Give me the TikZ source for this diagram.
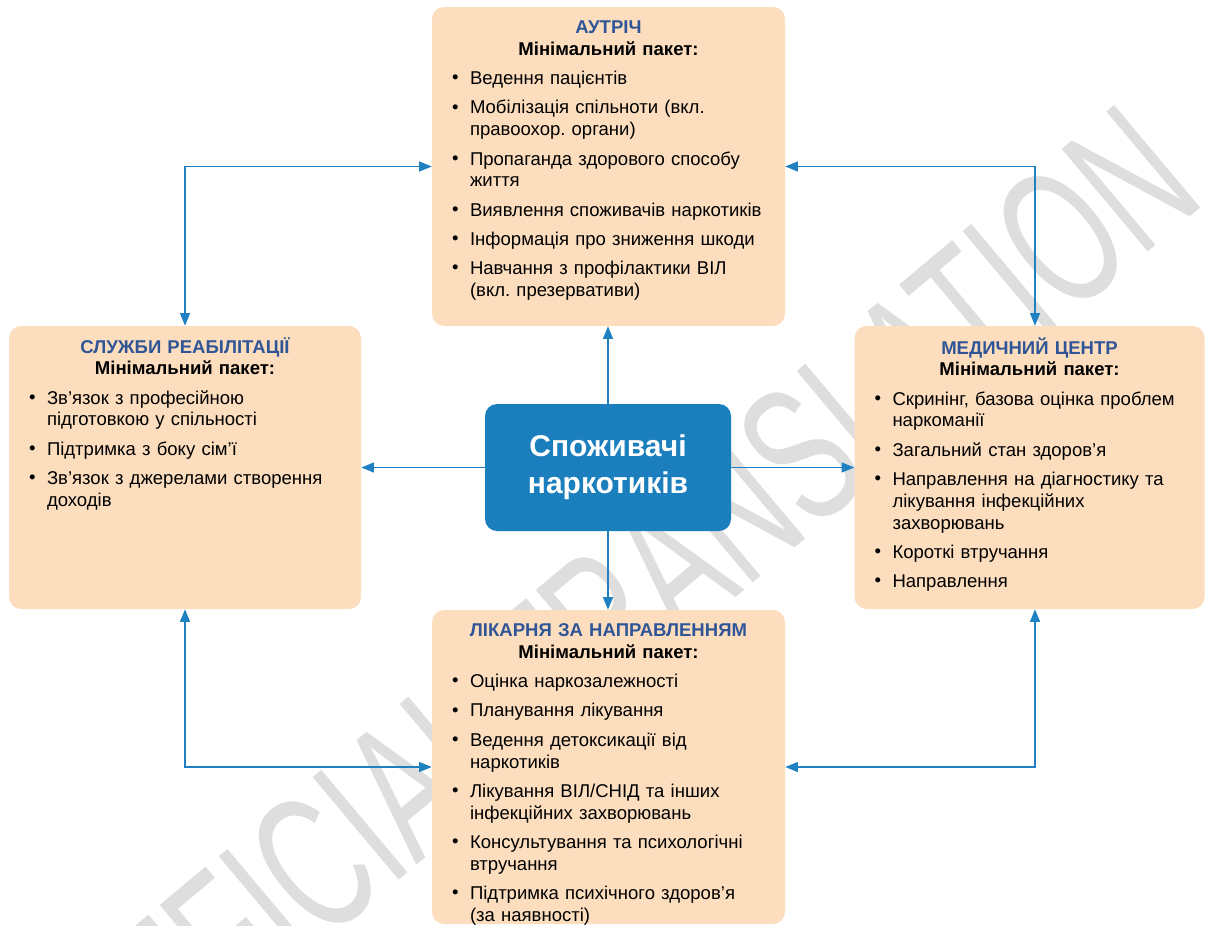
\documentclass[tikz,border=0pt]{standalone}
\usepackage{fontspec}
\setmainfont{Liberation Sans}
\usetikzlibrary{arrows.meta}
\frenchspacing

\definecolor{peach}{RGB}{252,221,190}
\definecolor{hubblue}{RGB}{27,127,189}
\definecolor{titleblue}{RGB}{47,85,151}
\definecolor{linkblue}{RGB}{31,128,194}
\definecolor{wmgrey}{RGB}{222,222,222}

\newcommand{\pkghead}[1]{{\centering\bfseries\strut\textcolor{titleblue}{#1}\par Мінімальний пакет:\par}}
\newcommand{\bitem}[1]{\par\vspace{5.7pt}\noindent\leftskip=0pt\rightskip=-100pt plus 1fil\hangindent=13.5pt\hangafter=1\hbox to 13.5pt{\raisebox{0.6pt}{\textbullet}\hfil}#1\par}

\begin{document}
\begin{tikzpicture}
[
x=0.75pt, y=-0.75pt,
>={Triangle[length=9.5pt,width=7.5pt]},
pkg/.style={rectangle, rounded corners=9pt, fill=peach, inner sep=0pt},
hub/.style={rectangle, rounded corners=9pt, fill=hubblue, text=white, align=center,
  font=\bfseries\fontsize{22.5}{28}\selectfont, minimum width=184.5pt, minimum height=95.25pt},
txt/.style={anchor=north, inner sep=0pt, font=\fontsize{13.9}{16.3}\selectfont},
link/.style={draw=linkblue, line width=1pt},
wm/.style={text=wmgrey, font=\fontsize{146}{150}\selectfont, rotate=40, xscale=0.63, anchor=east, inner sep=0pt}
]
\useasboundingbox (0,0) rectangle (1205,925);

\node[wm] (wm) at (1165,150) {UNOFFICIAL TRANSLATION};

\node[pkg, minimum width=264.75pt, minimum height=239.25pt] (aut) at (608.5,166.5) {};
\node[txt, text width=234.75pt] (autlist) at ([yshift=-8.5pt]aut.north) {\pkghead{АУТРІЧ}
\bitem{Ведення пацієнтів}
\bitem{Мобілізація спільноти (вкл.\newline правоохор. органи)}
\bitem{Пропаганда здорового способу\newline життя}
\bitem{Виявлення споживачів наркотиків}
\bitem{Інформація про зниження шкоди}
\bitem{Навчання з профілактики ВІЛ\newline (вкл. презервативи)}};

\node[pkg, minimum width=264pt, minimum height=212.25pt] (rehab) at (185,467.5) {};
\node[txt, text width=234pt] (rehablist) at ([yshift=-8.5pt]rehab.north) {\pkghead{СЛУЖБИ РЕАБІЛІТАЦІЇ}
\bitem{Зв’язок з професійною\newline підготовкою у спільності}
\bitem{Підтримка з боку сім’ї}
\bitem{Зв’язок з джерелами створення\newline доходів}};

\node[pkg, minimum width=262.5pt, minimum height=212.25pt] (med) at (1029.5,467.5) {};
\node[txt, text width=232.5pt] (medlist) at ([yshift=-8.5pt]med.north) {\pkghead{МЕДИЧНИЙ ЦЕНТР}
\bitem{Скринінг, базова оцінка проблем\newline наркоманії}
\bitem{Загальний стан здоров’я}
\bitem{Направлення на діагностику та\newline лікування інфекційних\newline захворювань}
\bitem{Короткі втручання}
\bitem{Направлення}};

\node[pkg, minimum width=264.75pt, minimum height=235.5pt] (hosp) at (608.5,767) {};
\node[txt, text width=234.75pt] (hosplist) at ([yshift=-8.5pt]hosp.north) {\pkghead{ЛІКАРНЯ ЗА НАПРАВЛЕННЯМ}
\bitem{Оцінка наркозалежності}
\bitem{Планування лікування}
\bitem{Ведення детоксикації від\newline наркотиків}
\bitem{Лікування ВІЛ/СНІД та інших\newline інфекційних захворювань}
\bitem{Консультування та психологічні\newline втручання}
\bitem{Підтримка психічного здоров’я\newline (за наявності)}};

\node[hub] (hub) at (608,467.5) {Споживачі\\наркотиків};

\draw[link,->] (hub.north) -- (hub.north |- aut.south);
\draw[link,->] (hub.south) -- (hub.south |- hosp.north);
\draw[link,->] (hub.west) -- (hub.west -| rehab.east);
\draw[link,->] (hub.east) -- (hub.east -| med.west);

\coordinate (tr) at (1035,166.5);
\coordinate (br) at (1035,770);
\draw[link,<->] (rehab.north) |- (aut.west);
\draw[link,<->] (aut.east) -- (tr) -- (tr |- med.north);
\draw[link,<->] (rehab.south) |- (hosp.west);
\draw[link,<->] (hosp.east) -- (hosp.east -| br) -- (br |- med.south);
\end{tikzpicture}
\end{document}
